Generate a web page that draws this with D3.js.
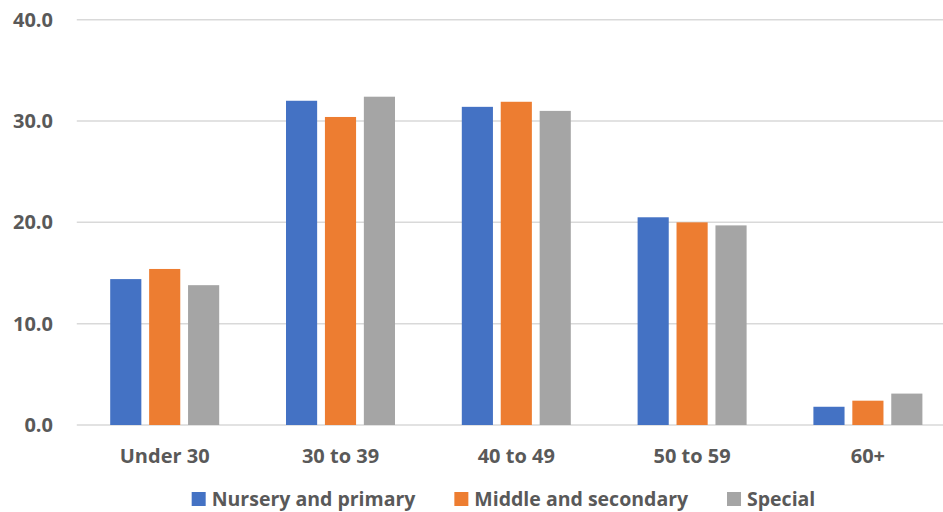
<!DOCTYPE html>
<html><head><meta charset="utf-8">
<script src="https://cdn.jsdelivr.net/npm/d3@7"></script>
<style>
html,body{margin:0;padding:0;background:#fff;overflow:hidden;}
svg{display:block;}
text{font-family:"Open Sans",sans-serif;font-weight:700;fill:#595959;}
</style></head>
<body>
<svg id="chart" width="943" height="512"></svg>
<script>
const categories = ["Under 30","30 to 39","40 to 49","50 to 59","60+"];
const seriesNames = ["Nursery and primary","Middle and secondary","Special"];
const nurseryPrimary = [14.4, 32.0, 31.4, 20.5, 1.8];
const middleSecondary = [15.4, 30.4, 31.9, 20.0, 2.4];
const special = [13.8, 32.4, 31.0, 19.7, 3.1];
const yTicks = [0, 10, 20, 30, 40];
const colors = ["#4472C4","#ED7D31","#A5A5A5"];

(function(){
const seriesValues = [nurseryPrimary, middleSecondary, special];
const data = categories.map((c,i)=>({cat:c, vals: seriesNames.map((s,j)=>({s, v: seriesValues[j][i]}))}));

const svg = d3.select("#chart");
const mLeft = 76.8, mRight = 955.8, mTop = 19.7, mBottom = 425;
const x0 = d3.scaleBand().domain(categories).range([mLeft, mRight]).padding(0);
const groupW = 109;
const x1 = d3.scaleBand().domain(seriesNames)
  .range([(x0.bandwidth()-groupW)/2, (x0.bandwidth()+groupW)/2]).paddingInner(0.2).paddingOuter(0);
const y = d3.scaleLinear().domain([0,40]).range([mBottom, mTop]);

svg.append("g").selectAll("line").data(yTicks).join("line")
  .attr("x1", mLeft).attr("x2", 943)
  .attr("y1", d=>y(d)).attr("y2", d=>y(d))
  .attr("stroke", "#d9d9d9").attr("stroke-width", 1.5);

svg.append("g").selectAll("text").data(yTicks).join("text")
  .attr("x", 53).attr("y", d=>y(d)).attr("dy","0.35em")
  .attr("text-anchor","end").attr("font-size","20px")
  .text(d=>d3.format(".1f")(d));

const g = svg.append("g").selectAll("g").data(data).join("g")
  .attr("transform", d=>`translate(${x0(d.cat)},0)`);
g.selectAll("rect").data(d=>d.vals).join("rect")
  .attr("x", d=>x1(d.s)).attr("width", x1.bandwidth())
  .attr("y", d=>y(d.v)).attr("height", d=>y(0)-y(d.v))
  .attr("fill", (d,i)=>colors[i]);

svg.append("g").selectAll("text").data(categories).join("text")
  .attr("x", d=>x0(d)+x0.bandwidth()/2).attr("y", 463)
  .attr("text-anchor","middle").attr("font-size","20px")
  .text(d=>d);

const leg = svg.append("g");
const items = leg.selectAll("g").data(seriesNames).join("g");
items.append("rect").attr("width",14).attr("height",14).attr("y",492)
  .attr("fill",(d,i)=>colors[i]);
items.append("text").attr("x",20).attr("y",506).attr("font-size","19.5px").text(d=>d);
let xpos = 0;
const gap = 38;
items.each(function(){
  d3.select(this).attr("transform",`translate(${xpos},0)`);
  const w = this.getBBox().width;
  xpos += w + gap;
});
const totalW = xpos - gap;
leg.attr("transform",`translate(${503.5 - totalW/2},0)`);
})();
</script>
</body></html>
